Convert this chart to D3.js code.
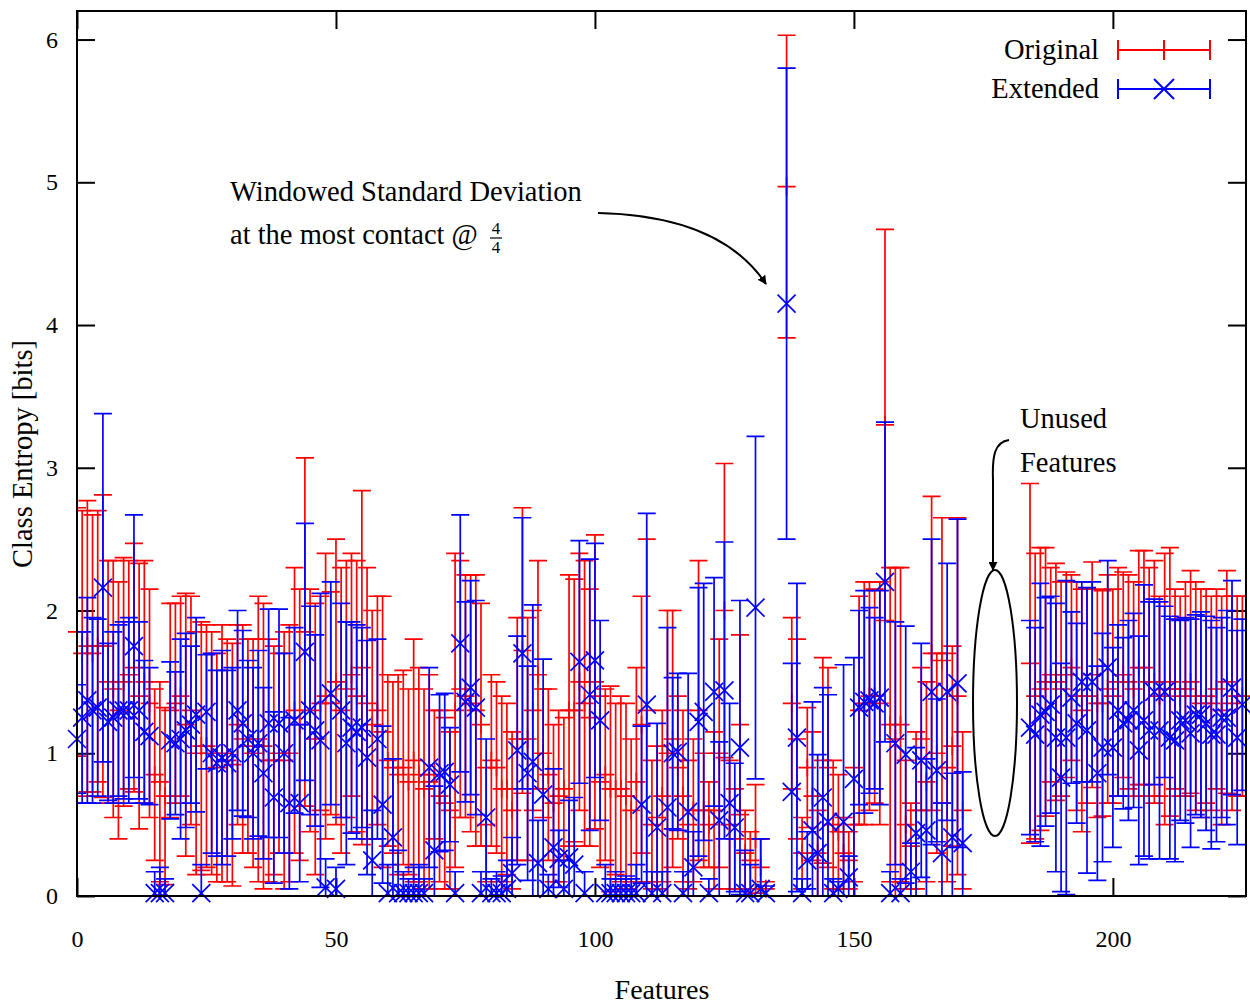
<!DOCTYPE html>
<html>
<head>
<meta charset="utf-8">
<script src="https://cdn.jsdelivr.net/npm/d3@7"></script>
<style>
  body { margin: 0; background: #fff; }
  svg { display: block; }
  text { font-family: "Liberation Serif", "Times New Roman", serif; fill: #000; }
</style>
</head>
<body>
<svg id="chart" width="1250" height="1005"></svg>
<script>
// Class entropy per feature: windowed mean and standard deviation.
// Index = feature number; null = feature not used.
const originalMean = [
  1.85,1.70,1.75,1.70,1.75,1.75,1.50,1.45,1.30,1.50,
  1.55,1.60,1.40,1.50,1.35,0.85,0.80,0.70,1.30,1.35,
  1.40,1.20,1.30,1.00,1.05,1.05,1.00,0.90,1.00,0.95,
  0.92,1.20,1.10,1.05,1.00,1.10,1.05,0.95,0.95,1.00,
  0.95,1.00,1.30,1.20,1.85,1.30,1.10,1.35,1.40,1.35,
  1.50,1.30,1.45,1.55,1.40,1.60,1.35,1.20,1.30,1.15,
  0.95,0.90,0.85,0.90,0.80,0.95,0.85,0.75,0.80,0.85,
  0.70,0.65,0.60,1.30,1.45,1.40,1.35,1.30,1.20,0.50,
  0.95,0.90,0.75,0.75,0.60,1.10,1.72,1.10,1.30,1.55,
  1.00,0.85,0.65,0.70,0.75,1.30,1.30,1.50,1.35,1.25,
  1.50,0.80,0.85,0.75,0.75,0.75,0.70,0.60,0.80,1.20,
  1.30,0.50,0.55,0.70,1.00,1.10,0.90,0.70,0.50,0.60,
  1.30,0.60,0.50,0.60,1.00,2.00,0.50,0.40,1.20,0.30,
  0.25,0.40,0.20,0.05,null,null,null,4.97,1.35,1.10,
  0.30,0.90,0.70,0.30,0.95,0.90,0.50,0.45,0.30,0.25,
  0.50,1.30,1.35,1.40,1.40,1.35,3.30,1.20,1.10,1.20,
  0.50,0.35,0.60,1.10,0.80,1.70,1.00,1.65,0.90,1.05,
  1.40,0.60,null,null,null,null,null,null,null,null,
  null,null,null,null,1.63,1.40,1.45,1.50,1.55,1.50,
  1.45,1.55,1.60,1.40,1.30,1.40,1.55,1.35,1.35,1.45,
  1.40,1.50,1.55,1.50,1.45,1.60,1.60,1.50,1.50,1.40,
  1.45,1.50,1.45,1.40,1.45,1.50,1.40,1.35,1.40,1.35,
  1.45,1.30,1.50,1.35,1.40,1.40
];
const originalSd = [
  0.87,1.00,1.02,0.97,0.95,1.06,0.85,0.90,0.90,0.87,
  0.80,0.87,0.93,0.85,0.80,0.60,0.70,0.62,0.75,0.70,
  0.70,0.92,0.80,0.85,0.87,0.85,0.85,0.80,0.90,0.85,
  0.85,0.70,0.80,0.75,0.80,1.00,1.00,0.85,0.80,0.70,
  0.90,0.90,1.00,0.95,1.22,0.85,0.95,0.75,1.00,0.78,
  1.00,1.00,0.90,0.85,0.95,1.24,0.95,0.80,0.80,0.95,
  0.60,0.60,0.70,0.68,0.65,0.85,0.75,0.70,0.75,0.45,
  0.60,0.60,0.55,1.10,0.90,0.85,0.90,0.95,0.85,0.40,
  0.60,0.60,0.65,0.60,0.55,0.85,1.00,0.85,0.70,0.80,
  0.45,0.60,0.55,0.60,0.50,0.95,0.92,0.90,1.00,0.90,
  1.03,0.60,0.60,0.72,0.60,0.65,0.65,0.50,0.80,0.90,
  1.20,0.45,0.50,0.60,1.00,0.90,0.50,0.60,0.45,0.50,
  1.05,0.40,0.30,0.55,0.80,1.03,0.45,0.35,0.63,0.30,
  0.20,0.38,0.20,0.05,null,null,null,1.06,0.60,0.70,
  0.25,0.42,0.45,0.30,0.72,0.70,0.45,0.40,0.25,0.20,
  0.40,0.80,0.85,0.80,0.75,0.85,1.37,1.10,1.20,1.10,
  0.45,0.30,0.55,0.50,0.70,1.10,0.70,1.00,0.80,0.70,
  1.25,0.55,null,null,null,null,null,null,null,null,
  null,null,null,null,1.26,1.00,0.99,0.94,0.75,0.83,
  0.75,0.72,0.65,0.80,0.85,0.75,0.79,0.80,0.79,0.80,
  0.75,0.80,0.72,0.75,0.75,0.82,0.82,0.80,0.85,0.70,
  0.95,0.94,0.70,0.70,0.75,0.78,0.80,0.80,0.75,0.75,
  0.70,0.80,0.78,0.75,0.70,0.70
];
const extendedMean = [
  1.10,1.25,1.37,1.30,1.32,2.16,1.22,1.25,1.30,1.30,
  1.30,1.75,1.30,1.15,1.12,0.02,0.02,0.02,1.09,1.07,
  1.10,1.16,1.20,1.27,0.02,1.29,1.00,0.93,0.97,0.93,
  1.00,1.30,1.21,1.10,1.00,1.07,0.86,1.21,0.69,1.21,
  1.00,0.65,1.23,0.65,1.71,1.30,1.16,1.09,0.06,1.42,
  0.05,1.30,1.07,1.18,1.15,1.18,0.97,0.25,1.10,0.64,
  0.02,0.41,0.02,0.02,0.02,0.02,0.02,0.02,0.90,0.32,
  0.86,0.87,0.78,0.02,1.77,1.36,1.46,1.32,0.02,0.55,
  0.02,0.02,0.02,0.05,0.16,1.02,1.70,0.86,0.94,0.23,
  0.71,0.05,0.34,0.26,0.05,0.27,0.22,1.64,0.02,1.41,
  1.65,1.23,0.02,0.02,0.02,0.02,0.02,0.02,0.02,0.64,
  1.34,0.02,0.48,0.02,0.62,1.00,1.01,0.02,0.59,0.20,
  1.22,1.29,0.02,1.43,0.53,1.44,0.65,0.48,1.04,0.02,
  0.02,2.02,0.05,0.02,null,null,null,4.15,0.73,1.11,
  0.02,0.25,0.46,0.30,0.69,0.52,0.02,0.05,0.52,0.13,
  0.82,1.32,1.36,1.37,1.35,1.39,2.20,0.02,1.07,0.02,
  0.99,0.17,0.44,0.95,0.46,1.43,0.88,0.30,1.43,0.41,
  1.49,0.37,null,null,null,null,null,null,null,null,
  null,null,null,null,1.18,1.13,1.27,1.29,1.34,1.11,
  0.83,1.11,1.39,1.21,1.50,1.16,1.50,0.86,1.04,1.60,
  1.04,1.30,1.21,1.23,1.30,1.02,1.23,1.16,1.43,1.16,
  1.43,1.11,1.09,1.23,1.23,1.14,1.27,1.27,1.21,1.13,
  1.13,1.25,1.25,1.46,1.11,1.34
];
const extendedSd = [
  0.38,0.60,0.72,0.65,0.62,1.22,0.55,0.60,0.60,0.62,
  0.65,0.92,0.62,0.50,0.48,0.15,0.18,0.10,0.55,0.50,
  0.70,0.68,0.55,0.68,0.20,0.40,0.70,0.65,0.75,0.65,
  0.60,0.70,0.65,0.55,0.60,0.65,0.60,0.80,0.60,0.80,
  0.70,0.60,0.65,0.55,0.90,0.73,0.67,1.03,0.20,0.78,
  0.15,0.75,0.85,0.74,0.75,0.70,0.82,0.35,0.70,0.55,
  0.20,0.55,0.30,0.15,0.10,0.18,0.20,0.10,0.70,0.45,
  0.55,0.55,0.40,0.15,0.90,0.70,0.75,0.75,0.15,0.55,
  0.10,0.15,0.12,0.20,0.25,0.80,0.95,0.75,1.10,0.30,
  0.95,0.10,0.55,0.20,0.20,0.40,0.47,0.85,0.15,0.95,
  0.82,0.70,0.20,0.10,0.15,0.10,0.12,0.10,0.20,0.55,
  1.34,0.15,0.73,0.15,1.26,0.53,0.55,0.15,0.97,0.25,
  0.94,0.90,0.10,0.80,0.55,1.04,0.70,0.45,1.03,0.30,
  0.20,1.20,0.35,0.05,null,null,null,1.65,0.90,1.08,
  0.10,0.20,0.90,0.69,0.77,0.89,0.10,0.05,1.10,0.15,
  0.85,0.68,0.78,0.65,0.60,0.75,1.12,0.15,0.85,0.10,
  0.90,0.20,0.60,0.82,0.50,1.07,0.50,0.35,0.90,0.45,
  1.15,0.50,null,null,null,null,null,null,null,null,
  null,null,null,null,0.75,0.75,0.92,0.80,0.76,0.94,
  0.80,1.10,0.60,0.70,0.70,1.00,0.70,0.75,0.80,0.75,
  0.70,0.60,0.60,0.70,0.68,0.80,0.95,0.90,0.65,0.90,
  0.60,0.85,0.85,0.70,0.72,0.80,0.70,0.72,0.75,0.80,
  0.75,0.70,0.75,0.75,0.75,0.60
];

const xTicks = [0, 50, 100, 150, 200];
const yTicks = [0, 1, 2, 3, 4, 5, 6];
const seriesNames = ["Original", "Extended"];

const svg = d3.select("#chart");
const L = 77, R = 1246, T = 11, B = 896;
const x = d3.scaleLinear().domain([0, 225.7]).range([L, R]);
const y = d3.scaleLinear().domain([0, 6.2]).range([B, T]);
const TICK = 18, CAP = 9, MARK = 9, LW = 1.7;

const defs = svg.append("defs");
defs.append("clipPath").attr("id", "plotClip")
  .append("rect").attr("x", L).attr("y", T).attr("width", R - L).attr("height", B - T);
defs.append("marker").attr("id", "head").attr("viewBox", "0 0 10 10")
  .attr("refX", 9).attr("refY", 5).attr("markerWidth", 9).attr("markerHeight", 9)
  .attr("markerUnits", "userSpaceOnUse").attr("orient", "auto")
  .append("path").attr("d", "M0,0L10,5L0,10Z").attr("fill", "#000");

// Tick marks on all four sides, pointing inward
const axisStyle = g => {
  g.select(".domain").remove();
  g.selectAll(".tick line").attr("stroke", "#000").attr("stroke-width", 2);
  g.selectAll(".tick text").style("font-size", "24px").attr("fill", "#000")
    .style("font-family", '"Liberation Serif", serif');
};
svg.append("g").attr("transform", `translate(0,${B})`)
  .call(d3.axisBottom(x).tickValues(xTicks).tickSize(-TICK).tickPadding(34).tickFormat(d3.format("d")))
  .call(axisStyle);
svg.append("g").attr("transform", `translate(0,${T})`)
  .call(d3.axisTop(x).tickValues(xTicks).tickSize(-TICK).tickFormat(""))
  .call(axisStyle);
svg.append("g").attr("transform", `translate(${L},0)`)
  .call(d3.axisLeft(y).tickValues(yTicks).tickSize(-TICK).tickPadding(19).tickFormat(d3.format("d")))
  .call(axisStyle);
svg.append("g").attr("transform", `translate(${R},0)`)
  .call(d3.axisRight(y).tickValues(yTicks).tickSize(-TICK).tickFormat(""))
  .call(axisStyle);

function toPoints(means, sds) {
  return means.map((m, i) => ({ f: i, m, s: sds[i] })).filter(d => d.m !== null);
}

function drawErrorBars(points, color) {
  const g = svg.append("g").attr("clip-path", "url(#plotClip)")
    .attr("stroke", color).attr("stroke-width", LW).attr("fill", "none");
  g.selectAll("path").data(points).join("path")
    .attr("d", d => {
      const cx = x(d.f), y1 = y(d.m + d.s), y0 = y(d.m - d.s);
      return `M${cx},${y0}V${y1}M${cx - CAP},${y1}H${cx + CAP}M${cx - CAP},${y0}H${cx + CAP}`;
    });
}

const orig = toPoints(originalMean, originalSd);
const ext = toPoints(extendedMean, extendedSd);

// Original: error bars with "+" at the mean
drawErrorBars(orig, "#ff0000");
svg.append("g").attr("stroke", "#ff0000").attr("stroke-width", LW)
  .selectAll("path").data(orig).join("path")
  .attr("d", d => {
    const cx = x(d.f), cy = y(d.m);
    return `M${cx - MARK},${cy}H${cx + MARK}M${cx},${cy - MARK}V${cy + MARK}`;
  });

// Extended: error bars with "x" at the mean
drawErrorBars(ext, "#0000ff");
svg.append("g").attr("stroke", "#0000ff").attr("stroke-width", LW)
  .selectAll("path").data(ext).join("path")
  .attr("d", d => {
    const cx = x(d.f), cy = y(d.m);
    return `M${cx - MARK},${cy - MARK}L${cx + MARK},${cy + MARK}M${cx - MARK},${cy + MARK}L${cx + MARK},${cy - MARK}`;
  });

// Frame
svg.append("rect").attr("x", L).attr("y", T).attr("width", R - L).attr("height", B - T)
  .attr("fill", "none").attr("stroke", "#000").attr("stroke-width", 2);

// Axis titles
svg.append("text").attr("x", 662).attr("y", 999).attr("text-anchor", "middle")
  .style("font-size", "28px").text("Features");
svg.append("text").attr("transform", "translate(32,454) rotate(-90)").attr("text-anchor", "middle")
  .style("font-size", "28.5px").text("Class Entropy [bits]");

// Legend
const legend = svg.append("g");
const legendColors = ["#ff0000", "#0000ff"];
seriesNames.forEach((name, i) => {
  const ly = 50 + i * 39;
  legend.append("text").attr("x", 1099).attr("y", ly + 9).attr("text-anchor", "end")
    .style("font-size", "28.5px").text(name);
  const g = legend.append("g").attr("stroke", legendColors[i]).attr("stroke-width", 2).attr("fill", "none");
  g.append("path").attr("d", `M1118,${ly}H1210M1118,${ly - 10}V${ly + 10}M1210,${ly - 10}V${ly + 10}`);
  if (i === 0) g.append("path").attr("d", `M1164,${ly - 10}V${ly + 10}`);
  else g.append("path").attr("d", `M1154,${ly - 10}L1174,${ly + 10}M1154,${ly + 10}L1174,${ly - 10}`);
});

// Annotation: the largest deviation
const ann = svg.append("g");
ann.append("text").attr("x", 230).attr("y", 201).style("font-size", "28.5px").text("Windowed Standard Deviation");
ann.append("text").attr("x", 230).attr("y", 244).style("font-size", "28.5px").text("at the most contact @");
ann.append("text").attr("x", 496).attr("y", 234).attr("text-anchor", "middle").style("font-size", "17px").text("4");
ann.append("line").attr("x1", 490).attr("x2", 502).attr("y1", 238).attr("y2", 238).attr("stroke", "#000").attr("stroke-width", 1.2);
ann.append("text").attr("x", 496).attr("y", 253).attr("text-anchor", "middle").style("font-size", "17px").text("4");
ann.append("path").attr("d", "M598,213 C690,215 740,245 766,284")
  .attr("fill", "none").attr("stroke", "#000").attr("stroke-width", 2).attr("marker-end", "url(#head)");

// Annotation: unused features
svg.append("text").attr("x", 1020).attr("y", 428).style("font-size", "28.5px").text("Unused");
svg.append("text").attr("x", 1020).attr("y", 472).style("font-size", "28.5px").text("Features");
svg.append("path").attr("d", "M1009,440 C995,442 992,455 993,480 L993,570")
  .attr("fill", "none").attr("stroke", "#000").attr("stroke-width", 2).attr("marker-end", "url(#head)");
svg.append("ellipse").attr("cx", 995).attr("cy", 703).attr("rx", 22).attr("ry", 133)
  .attr("fill", "none").attr("stroke", "#000").attr("stroke-width", 2);
</script>
</body>
</html>
